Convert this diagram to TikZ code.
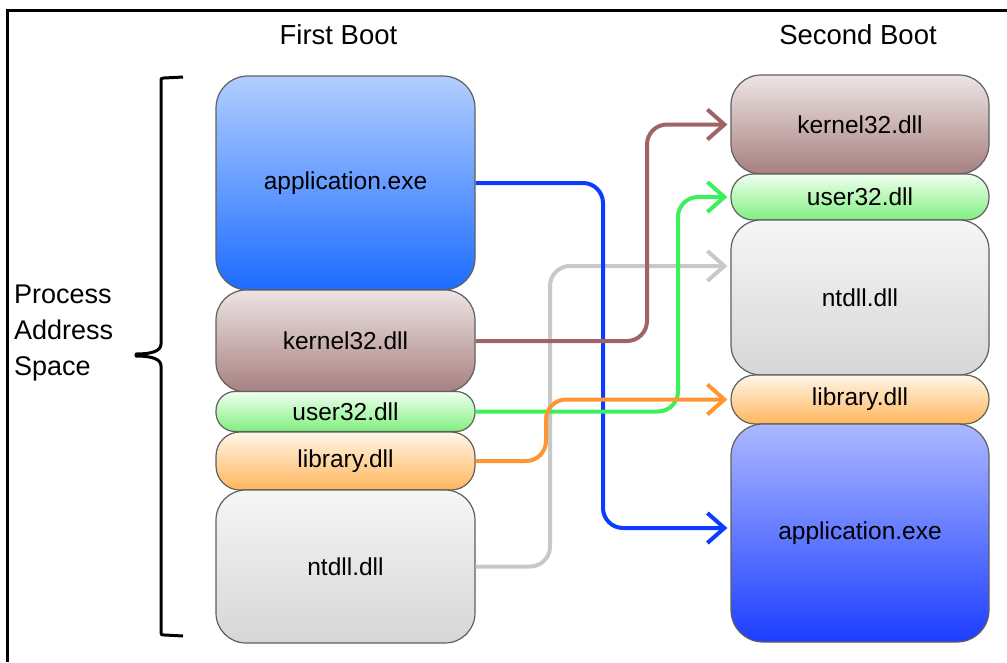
\documentclass[tikz,border=0pt]{standalone}
\usepackage{fontspec}
\setmainfont{Liberation Sans}
\usetikzlibrary{arrows.meta,calc}
\definecolor{appTopL}{RGB}{178,206,255}
\definecolor{appBotL}{RGB}{28,108,255}
\definecolor{appTopR}{RGB}{172,184,255}
\definecolor{appBotR}{RGB}{28,62,255}
\definecolor{kerTop}{RGB}{238,228,228}
\definecolor{kerBot}{RGB}{168,128,128}
\definecolor{usrTop}{RGB}{240,255,240}
\definecolor{usrBot}{RGB}{128,240,128}
\definecolor{libTop}{RGB}{255,246,232}
\definecolor{libBot}{RGB}{255,182,92}
\definecolor{ntTop}{RGB}{246,246,246}
\definecolor{ntBot}{RGB}{214,214,214}
\definecolor{edgeGray}{RGB}{95,95,95}
\definecolor{arBlue}{RGB}{12,60,255}
\definecolor{arBrown}{RGB}{160,100,100}
\definecolor{arGreen}{RGB}{60,240,90}
\definecolor{arOrange}{RGB}{255,150,50}
\definecolor{arGray}{RGB}{200,200,200}
\tikzset{
  membox/.style={draw=edgeGray, line width=1.2pt, inner sep=0pt, minimum width=259pt,
    font=\fontsize{24.5}{28}\selectfont},
  appL/.style={membox, top color=appTopL, bottom color=appBotL, rounded corners=32pt},
  appR/.style={membox, top color=appTopR, bottom color=appBotR, rounded corners=32pt},
  kerbox/.style={membox, top color=kerTop, bottom color=kerBot, rounded corners=30pt},
  usrbox/.style={membox, top color=usrTop, bottom color=usrBot, rounded corners=19pt},
  libbox/.style={membox, top color=libTop, bottom color=libBot, rounded corners=24pt},
  ntbox/.style={membox, top color=ntTop, bottom color=ntBot, rounded corners=30pt},
  conn/.style={line width=4pt, rounded corners=20pt, line join=round,
    -{Straight Barb[length=17pt,width=30pt,line width=4pt]}, shorten >=3pt},
  title/.style={font=\fontsize{27.5}{30}\selectfont, inner sep=0pt},
}
\begin{document}
\begin{tikzpicture}[x=1pt,y=-1pt]
\useasboundingbox (0,0) rectangle (1007,662);
% frame (only top and left edges fall inside the picture)
\draw[line width=3pt] (7,662) -- (7,10) -- (1007,10);
% titles
\node[title] (t1) at (338.5,35) {First Boot};
\node[title] (t2) at (858,35) {Second Boot};
\node[font=\fontsize{27}{36}\selectfont, align=left, anchor=west, inner sep=0pt] (pas) at (14,333) {Process\\Address\\Space};
% brace
\draw[line width=3pt, line join=round] (183,77) -- (164,78) .. controls (161,78) .. (161,82) -- (161,344)
  .. controls (161,351) and (152,354) .. (136,354)
  -- (136,356) .. controls (152,356) and (161,359) .. (161,366)
  -- (161,630) .. controls (161,635) .. (165,635) -- (183,636);
% left column
\node[appL, minimum height=214pt] (Lapp) at (345.5,183) {application.exe};
\node[kerbox, minimum height=102pt] (Lker) at (345.5,341) {kernel32.dll};
\node[usrbox, minimum height=40pt] (Lusr) at (345.5,411.5) {user32.dll};
\node[libbox, minimum height=58pt] (Llib) at (345.5,461) {library.dll};
\node[ntbox, minimum height=153pt] (Lnt) at (345.5,566.5) {ntdll.dll};
% right column
\node[kerbox, minimum height=99pt, minimum width=258pt] (Rker) at (860,124.5) {kernel32.dll};
\node[usrbox, minimum height=46pt, minimum width=258pt, rounded corners=22pt] (Rusr) at (860,197) {user32.dll};
\node[ntbox, minimum height=155pt, minimum width=258pt] (Rnt) at (860,297.5) {ntdll.dll};
\node[libbox, minimum height=49pt, minimum width=258pt] (Rlib) at (860,399.5) {library.dll};
\node[appR, minimum height=218pt, minimum width=258pt] (Rapp) at (860,533) {application.exe};
% connector x positions
\coordinate (xb) at (603,0);
\coordinate (xk) at (647,0);
\coordinate (xu) at (678,0);
\coordinate (xl) at (546,0);
\coordinate (xn) at (550,0);
\coordinate (yapp) at (0,528);
\coordinate (ynt) at (0,266);
% connectors
\draw[conn, arGray] (Lnt.east) -- (Lnt.east -| xn) -- (xn |- ynt) -- (Rnt.west |- ynt);
\draw[conn, arBlue] (Lapp.east) -- (Lapp.east -| xb) -- (xb |- yapp) -- (Rapp.west |- yapp);
\draw[conn, arBrown] (Lker.east) -- (Lker.east -| xk) -- (Rker.west -| xk) -- (Rker.west);
\draw[conn, arGreen] (Lusr.east) -- (Lusr.east -| xu) -- (Rusr.west -| xu) -- (Rusr.west);
\draw[conn, arOrange] (Llib.east) -- (Llib.east -| xl) -- (Rlib.west -| xl) -- (Rlib.west);
\end{tikzpicture}
\end{document}
